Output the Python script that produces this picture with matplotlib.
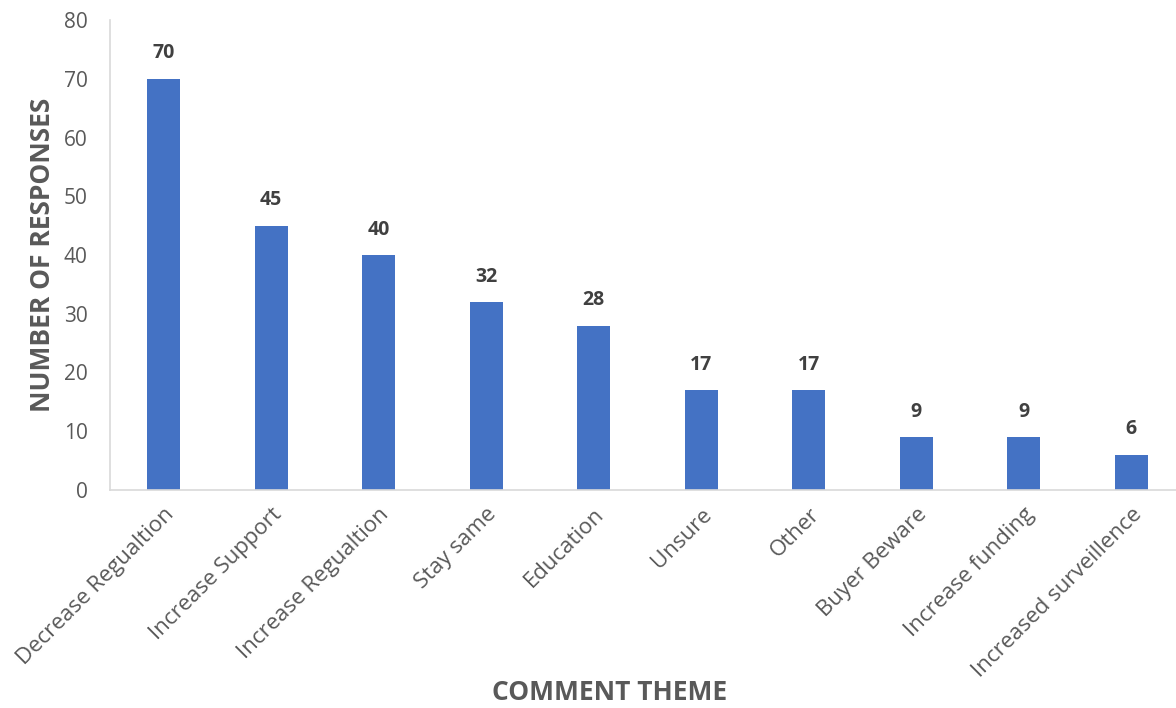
import matplotlib
matplotlib.use("Agg")
import matplotlib.pyplot as plt

categories = ["Decrease Regualtion", "Increase Support", "Increase Regualtion", "Stay same",
              "Education", "Unsure", "Other", "Buyer Beware", "Increase funding",
              "Increased surveillence"]
values = [70, 45, 40, 32, 28, 17, 17, 9, 9, 6]
yticks = [0, 10, 20, 30, 40, 50, 60, 70, 80]

plt.rcParams['font.family'] = ['Open Sans', 'DejaVu Sans']

fig = plt.figure(figsize=(11.76, 7.08), dpi=100)
ax = fig.add_axes([110/1176, 218/708, 1075/1176, 470/708])
x = list(range(len(categories)))
bars = ax.bar(x, values, width=0.31, color="#4472C4")
ax.set_xlim(-0.5, len(categories) - 0.5)
ax.set_ylim(0, 80)
ax.set_yticks(yticks)
ax.set_xticks(x)
ax.set_xticklabels(categories, rotation=45, ha='right', rotation_mode='anchor',
                   fontsize=16, color="#595959")
ax.tick_params(axis='y', labelsize=15, labelcolor="#595959", length=0, pad=16)
ax.tick_params(axis='x', length=0, pad=10)
for s in ['top', 'right']:
    ax.spines[s].set_visible(False)
for s in ['left', 'bottom']:
    ax.spines[s].set_color("#D9D9D9")
    ax.spines[s].set_linewidth(1.2)
for xi, v in zip(x, values):
    ax.annotate(str(v), (xi, v), xytext=(0, 11), textcoords='offset points',
                ha='center', va='bottom', fontsize=14, fontweight='bold', color="#404040")
ax.set_ylabel("NUMBER OF RESPONSES", fontsize=19, fontweight='bold', color="#595959", labelpad=6)
fig.text(610/1176, 693/708, "", fontsize=1)
fig.text(610/1176, 1 - 693/708, "COMMENT THEME", fontsize=19, fontweight='bold',
         color="#595959", ha='center', va='center')
fig.savefig("out.png", dpi=100)
